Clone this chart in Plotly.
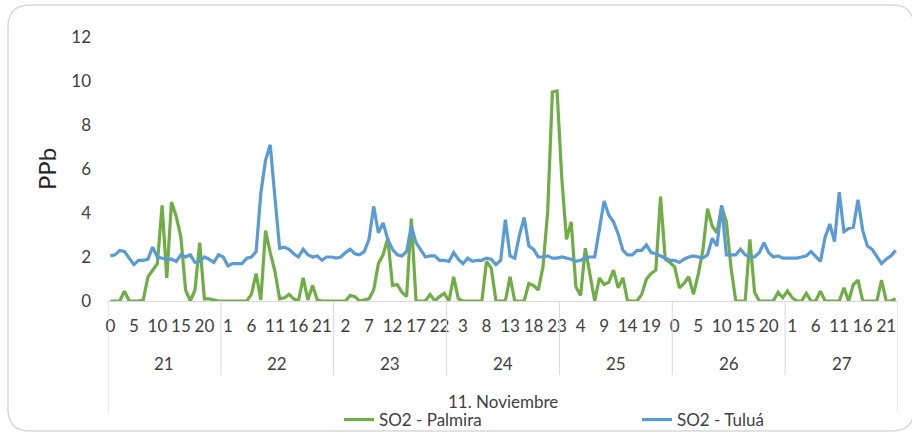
import plotly.graph_objects as go

# ---------------- data ----------------
days = ["21", "22", "23", "24", "25", "26", "27"]
hours = list(range(24))
month_label = "11. Noviembre"
y_tick_values = [0, 2, 4, 6, 8, 10, 12]
series_names = ["SO2 - Palmira", "SO2 - Tuluá"]

palmira_21 = [0, 0, 0, 0.45, 0, 0, 0, 0.05, 1.1, 1.4, 1.7, 4.35, 1.05, 4.5, 3.85, 2.9, 0.5, 0, 0.5, 2.65, 0.1, 0.1, 0.05, 0]
palmira_22 = [0, 0, 0, 0, 0, 0, 0.3, 1.25, 0.05, 3.2, 2.2, 1.35, 0.1, 0.15, 0.3, 0.1, 0, 1.05, 0.05, 0.7, 0.05, 0, 0, 0]
palmira_23 = [0, 0, 0, 0.25, 0.2, 0, 0.05, 0.1, 0.5, 1.7, 2.1, 2.85, 0.7, 0.75, 0.4, 0.2, 3.75, 0, 0, 0, 0.3, 0, 0.2, 0.35]
palmira_24 = [0, 1.1, 0.1, 0, 0, 0, 0, 0, 1.8, 1.5, 0, 0, 0, 1.1, 0, 0, 0, 0.8, 0.7, 0.5, 1.55, 4.05, 9.5, 9.55]
palmira_25 = [5.6, 2.8, 3.6, 0.65, 0.25, 2.4, 1.2, 0, 1.05, 0.75, 0.85, 1.4, 0.6, 1.05, 0, 0, 0, 0.3, 1.0, 1.25, 1.4, 4.75, 1.9, 1.75]
palmira_26 = [1.55, 0.6, 0.8, 1.1, 0.3, 1.2, 2.3, 4.2, 3.4, 3.1, 4.3, 3.6, 1.5, 0, 0, 0, 2.8, 0.4, 0, 0, 0, 0, 0.4, 0.15]
palmira_27 = [0.45, 0.15, 0, 0, 0.35, 0, 0, 0.45, 0, 0, 0, 0, 0.6, 0, 0.75, 0.95, 0, 0, 0, 0, 0.95, 0, 0, 0.1]

tulua_21 = [2.05, 2.1, 2.3, 2.25, 1.95, 1.65, 1.85, 1.85, 1.9, 2.45, 2.0, 1.95, 1.9, 1.9, 1.8, 2.1, 2.0, 2.1, 1.75, 1.8, 2.0, 1.9, 1.75, 2.1]
tulua_22 = [2.0, 1.6, 1.7, 1.7, 1.7, 1.95, 2.0, 2.25, 4.9, 6.4, 7.1, 4.7, 2.4, 2.45, 2.35, 2.15, 2.0, 2.35, 2.1, 2.0, 2.05, 1.85, 2.0, 2.0]
tulua_23 = [1.95, 2.0, 2.2, 2.35, 2.15, 2.1, 2.25, 2.8, 4.3, 3.1, 3.55, 2.8, 2.35, 2.1, 2.05, 2.25, 3.4, 2.65, 2.3, 2.0, 2.05, 2.05, 1.85, 1.85]
tulua_24 = [1.8, 2.2, 1.9, 1.7, 1.95, 1.8, 1.85, 1.85, 1.95, 1.9, 1.65, 1.85, 3.7, 2.05, 1.95, 3.0, 3.8, 2.5, 2.35, 2.0, 2.0, 2.05, 1.95, 1.95]
tulua_25 = [2.0, 1.95, 1.9, 1.8, 1.85, 1.95, 2.0, 2.0, 3.2, 4.55, 3.9, 3.6, 3.05, 2.3, 2.1, 2.1, 2.3, 2.3, 2.55, 2.2, 2.15, 2.05, 1.95, 1.85]
tulua_26 = [1.85, 1.75, 1.9, 2.0, 2.05, 2.0, 1.95, 2.1, 2.85, 2.5, 4.35, 2.1, 2.1, 2.1, 2.35, 2.1, 2.0, 2.0, 2.2, 2.65, 2.2, 2.0, 2.05, 1.95]
tulua_27 = [1.95, 1.95, 1.95, 2.0, 2.05, 2.25, 2.0, 1.8, 2.9, 3.5, 2.7, 4.95, 3.15, 3.3, 3.35, 4.6, 3.2, 2.5, 2.35, 2.05, 1.7, 1.9, 2.05, 2.3]

palmira = palmira_21 + palmira_22 + palmira_23 + palmira_24 + palmira_25 + palmira_26 + palmira_27
tulua = tulua_21 + tulua_22 + tulua_23 + tulua_24 + tulua_25 + tulua_26 + tulua_27

# ---------------- derived category positions ----------------
n_h = len(hours)
hour_of_point = [h for _ in days for h in hours]
idx = list(range(len(hour_of_point)))
label_step = 5
tick_idx = idx[::label_step]
tick_txt = [str(hour_of_point[i]) for i in tick_idx]

# ---------------- styling ----------------
W, H = 912, 433
ML, MR, MT, MB = 108, 14, 37, 132
PW, PH = W - ML - MR, H - MT - MB
FONT = "Lato"
TXT = "#404040"
GRID = "#d9d9d9"
GREEN = "#70AD47"
BLUE = "#5B9BD5"


def px_to_py(py):
    return (H - MB - py) / PH


def px_to_px(px):
    return (px - ML) / PW


fig = go.Figure()
fig.add_trace(go.Scatter(x=idx, y=palmira, mode="lines", name=series_names[0],
                         line=dict(color=GREEN, width=3.2)))
fig.add_trace(go.Scatter(x=idx, y=tulua, mode="lines", name=series_names[1],
                         line=dict(color=BLUE, width=3.2)))

shapes = []
annotations = []
# day separators and outer edges of the multi-level category axis
for k in range(1, len(days)):
    xb = k * n_h - 0.5
    shapes.append(dict(type="line", xref="x", yref="paper", x0=xb, x1=xb,
                       y0=0, y1=px_to_py(375), line=dict(color=GRID, width=1)))
for xb in (-0.5, len(idx) - 0.5):
    shapes.append(dict(type="line", xref="x", yref="paper", x0=xb, x1=xb,
                       y0=0, y1=px_to_py(413), line=dict(color=GRID, width=1)))

for k, d in enumerate(days):
    annotations.append(dict(x=k * n_h + (n_h - 1) / 2, y=px_to_py(363), xref="x", yref="paper",
                            text=d, showarrow=False, xanchor="center", yanchor="middle",
                            font=dict(family=FONT, size=17, color=TXT)))
annotations.append(dict(x=(len(idx) - 1) / 2, y=px_to_py(401), xref="x", yref="paper",
                        text=month_label, showarrow=False, xanchor="center", yanchor="middle",
                        font=dict(family=FONT, size=17, color=TXT)))

# rounded chart frame
L, R, T, B, r = 8, 914, 5, 431, 22
xl, xr = px_to_px(L), px_to_px(R)
yt, yb = px_to_py(T), px_to_py(B)
rx, ry = r / PW, r / PH
path = (f"M{xl + rx},{yt} L{xr - rx},{yt} Q{xr},{yt} {xr},{yt - ry} "
        f"L{xr},{yb + ry} Q{xr},{yb} {xr - rx},{yb} L{xl + rx},{yb} "
        f"Q{xl},{yb} {xl},{yb + ry} L{xl},{yt - ry} Q{xl},{yt} {xl + rx},{yt} Z")
shapes.append(dict(type="path", xref="paper", yref="paper", path=path,
                   line=dict(color=GRID, width=1.5), layer="below"))

fig.update_layout(
    width=W, height=H,
    margin=dict(l=ML, r=MR, t=MT, b=MB, autoexpand=False),
    paper_bgcolor="white", plot_bgcolor="white",
    font=dict(family=FONT, size=17, color=TXT),
    showlegend=True,
    legend=dict(orientation="h", x=px_to_px(339), xanchor="left",
                y=px_to_py(420), yanchor="middle",
                entrywidth=253, entrywidthmode="pixels",
                font=dict(family=FONT, size=17, color=TXT),
                bgcolor="rgba(0,0,0,0)"),
    shapes=shapes,
    annotations=annotations,
    xaxis=dict(range=[-0.5, len(idx) - 0.5], tickmode="array", tickvals=tick_idx,
               ticktext=tick_txt, showgrid=False, zeroline=False, showline=True,
               linecolor=GRID, linewidth=1, ticks="", ticklabelstandoff=10,
               tickangle=0, tickfont=dict(family=FONT, size=17, color=TXT),
               fixedrange=True),
    yaxis=dict(range=[0, 12], tickmode="array", tickvals=y_tick_values,
               showgrid=False, zeroline=False, showline=False, ticks="",
               ticklabelstandoff=16, tickfont=dict(family=FONT, size=17, color=TXT),
               title=dict(text="PPb", font=dict(family=FONT, size=24, color="#262626"),
                          standoff=7),
               automargin=False, fixedrange=True),
)

fig.write_html("out.html", config={"displayModeBar": False},
               post_script="document.body.style.margin='0px';")
